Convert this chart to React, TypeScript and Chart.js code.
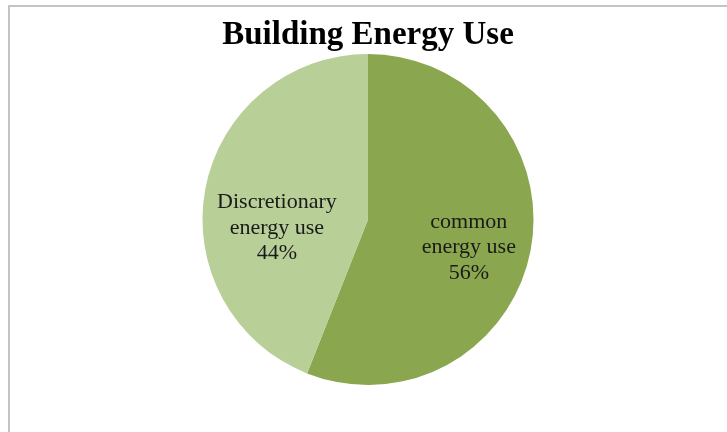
import React, { useEffect, useRef } from "react";
import { Chart, registerables } from "chart.js";

Chart.register(...registerables);

const categories = ["common energy use", "Discretionary energy use"];
const labelLines = [["common", "energy use"], ["Discretionary", "energy use"]];
const values = [56, 44];
const colors = ["#8aa74f", "#b8cf98"];

const labelPlugin = {
  id: "sliceLabels",
  afterDatasetsDraw(chart: any) {
    const ctx = chart.ctx;
    const meta = chart.getDatasetMeta(0);
    // radial fraction and vertical nudge for each slice label
    const place = [
      { f: 0.62, dy: 9 },
      { f: 0.56, dy: 26 },
    ];
    ctx.save();
    ctx.font = "22px 'Liberation Serif', serif";
    ctx.fillStyle = "#1a1a1a";
    ctx.textAlign = "center";
    ctx.textBaseline = "middle";
    meta.data.forEach((arc: any, i: number) => {
      const p = arc.getProps(["x", "y", "startAngle", "endAngle", "outerRadius"], true);
      const mid = (p.startAngle + p.endAngle) / 2;
      const r = p.outerRadius * place[i].f;
      const cx = p.x + Math.cos(mid) * r;
      const cy = p.y + Math.sin(mid) * r + place[i].dy;
      const lines = [...labelLines[i], values[i] + "%"];
      const lh = 25.5;
      lines.forEach((t, k) => {
        ctx.fillText(t, cx, cy + (k - (lines.length - 1) / 2) * lh);
      });
    });
    ctx.restore();
  },
};

export default function App() {
  const ref = useRef<HTMLCanvasElement | null>(null);
  useEffect(() => {
    document.body.style.margin = "0";
    const chart = new Chart(ref.current as HTMLCanvasElement, {
      type: "pie",
      data: {
        labels: categories,
        datasets: [
          {
            data: values,
            backgroundColor: colors,
            borderWidth: 0,
          },
        ],
      },
      options: {
        animation: false,
        responsive: false,
        maintainAspectRatio: false,
        layout: { padding: { top: 0, left: 9, right: 0, bottom: 47 } },
        plugins: {
          legend: { display: false },
          tooltip: { enabled: false },
          title: {
            display: true,
            text: "Building Energy Use",
            color: "#000000",
            font: { family: "'Liberation Serif', serif", size: 33, weight: "bold", lineHeight: 1.15 },
            padding: { top: 16, bottom: 0 },
          },
        },
      },
      plugins: [labelPlugin],
    });
    return () => chart.destroy();
  }, []);
  return (
    <div style={{ position: "relative", width: 727, height: 432, background: "#fff", overflow: "hidden" }}>
      <div
        style={{
          position: "absolute",
          left: 8,
          top: 5,
          width: 740,
          height: 440,
          borderLeft: "2px solid #c4c4c4",
          borderTop: "2px solid #c4c4c4",
          boxSizing: "border-box",
        }}
      />
      <canvas ref={ref} width={727} height={432} style={{ position: "absolute", left: 0, top: 0 }} />
    </div>
  );
}
